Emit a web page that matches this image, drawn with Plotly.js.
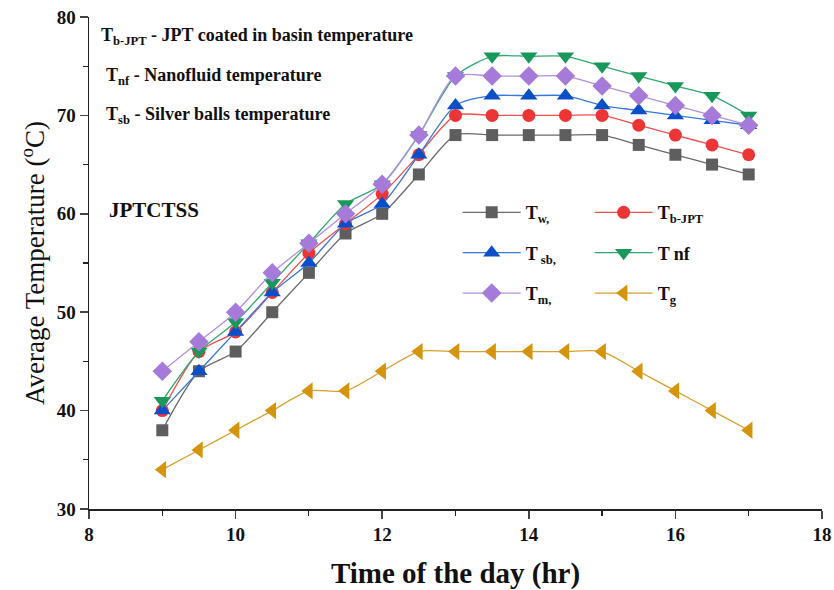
<!DOCTYPE html>
<html>
<head>
<meta charset="utf-8">
<script src="https://cdn.plot.ly/plotly-3.0.1.min.js"></script>
<style>html,body{margin:0;padding:0;background:#fff;}#chart{width:834px;height:590px;}</style>
</head>
<body>
<div id="chart"></div>
<script>
var hours = [9, 9.5, 10, 10.5, 11, 11.5, 12, 12.5, 13, 13.5, 14, 14.5, 15, 15.5, 16, 16.5, 17];
var Tw    = [38, 44, 46, 50, 54, 58, 60, 64, 68, 68, 68, 68, 68, 67, 66, 65, 64];
var Tbjpt = [40, 46, 48, 52, 56, 59, 62, 66, 70, 70, 70, 70, 70, 69, 68, 67, 66];
var Tsb   = [40, 44, 48, 52, 55, 59, 61, 66, 71, 72, 72, 72, 71, 70.5, 70, 69.5, 69];
var Tnf   = [41, 46, 49, 53, 57, 61, 63, 68, 74, 76, 76, 76, 75, 74, 73, 72, 70];
var Tm    = [44, 47, 50, 54, 57, 60, 63, 68, 74, 74, 74, 74, 73, 72, 71, 70, 69];
var Tg    = [34, 36, 38, 40, 42, 42, 44, 46, 46, 46, 46, 46, 46, 44, 42, 40, 38];
var seriesNames = ['T<sub>w,</sub>', 'T<sub>b-JPT</sub>', 'T<sub> sb,</sub>', 'T nf', 'T<sub>m,</sub>', 'T<sub>g</sub>'];
var xTickVals = [8, 10, 12, 14, 16, 18];
var xTickText = ['8', '10', '12', '14', '16', '18'];
var yTickVals = [30, 40, 50, 60, 70, 80];
var yTickText = ['30', '40', '50', '60', '70', '80'];

var FONT = 'Liberation Serif';
function bold(arr) { return arr.map(function (s) { return '<b>' + s + '</b>'; }); }
function mk(y, name, color, lineColor, symbol, size, legend) {
  return {
    x: hours, y: y, name: '<b>' + name + '</b>', type: 'scatter', mode: 'lines+markers',
    line: {color: lineColor, width: 1.3, shape: 'spline', smoothing: 0.7},
    marker: {color: color, symbol: symbol, size: size},
    legend: legend, legendgroup: name
  };
}
var data = [
  mk(Tw, seriesNames[0], '#5e5e5e', '#6a6a6a', 'square', 12, 'legend'),
  mk(Tbjpt, seriesNames[1], '#ee3535', '#f05050', 'circle', 13, 'legend2'),
  mk(Tsb, seriesNames[2], '#0a4fc8', '#3a78d8', 'triangle-up', 15, 'legend'),
  mk(Tnf, seriesNames[3], '#18985a', '#30a870', 'triangle-down', 15, 'legend2'),
  mk(Tm, seriesNames[4], '#a57ad8', '#b090e0', 'diamond', 15, 'legend'),
  mk(Tg, seriesNames[5], '#d4950c', '#d9a030', 'triangle-left', 15, 'legend2')
];

function legendCfg(x) {
  return {x: x, y: 0.64, xanchor: 'left', yanchor: 'top', bgcolor: 'rgba(0,0,0,0)',
    font: {family: FONT, size: 18, color: '#111'}, tracegroupgap: 14, itemwidth: 58,
    traceorder: 'grouped'};
}

var layout = {
  width: 834, height: 590,
  margin: {l: 89, r: 12, t: 17, b: 81},
  paper_bgcolor: '#fff', plot_bgcolor: '#fff',
  font: {family: FONT, color: '#111'},
  xaxis: {
    range: [8, 18], tickvals: xTickVals, ticktext: bold(xTickText), ticks: 'outside', ticklen: 8, tickwidth: 1.5,
    showline: true, linecolor: '#222', linewidth: 1.5, showgrid: false, zeroline: false,
    tickfont: {family: FONT, size: 19, color: '#111', weight: 'bold'},
    minor: {tickvals: [9, 11, 13, 15, 17], ticks: 'outside', ticklen: 5, tickwidth: 1.2, tickcolor: '#222', showgrid: false},
    title: {text: '<b>Time of the day (hr)</b>', font: {family: FONT, size: 29, color: '#111'}, standoff: 19}
  },
  yaxis: {
    range: [30, 80], tickvals: yTickVals, ticktext: bold(yTickText), ticks: 'outside', ticklen: 8, tickwidth: 1.5,
    showline: true, linecolor: '#222', linewidth: 1.5, showgrid: false, zeroline: false,
    tickfont: {family: FONT, size: 19, color: '#111', weight: 'bold'},
    minor: {tickvals: [35, 45, 55, 65, 75], ticks: 'outside', ticklen: 5, tickwidth: 1.2, tickcolor: '#222', showgrid: false},
    title: {text: 'Average Temperature (<sup>o</sup>C)', font: {family: FONT, size: 27, color: '#111'}, standoff: 4}
  },
  legend: legendCfg(0.503),
  legend2: legendCfg(0.683),
  showlegend: true,
  annotations: [
    {xref: 'paper', yref: 'paper', x: 0.013, y: 0.96, xanchor: 'left', yanchor: 'middle', showarrow: false,
     text: '<b>T<sub>b-JPT</sub> - JPT coated in basin temperature</b>', font: {family: FONT, size: 18, color: '#111'}},
    {xref: 'paper', yref: 'paper', x: 0.020, y: 0.88, xanchor: 'left', yanchor: 'middle', showarrow: false,
     text: '<b>T<sub>nf</sub> - Nanofluid temperature</b>', font: {family: FONT, size: 18, color: '#111'}},
    {xref: 'paper', yref: 'paper', x: 0.020, y: 0.80, xanchor: 'left', yanchor: 'middle', showarrow: false,
     text: '<b>T<sub>sb</sub> - Silver balls temperature</b>', font: {family: FONT, size: 18, color: '#111'}},
    {xref: 'paper', yref: 'paper', x: 0.024, y: 0.607, xanchor: 'left', yanchor: 'middle', showarrow: false,
     text: '<b>JPTCTSS</b>', font: {family: FONT, size: 21, color: '#111'}}
  ]
};
Plotly.newPlot('chart', data, layout, {displayModeBar: false, staticPlot: true});
</script>
</body>
</html>
